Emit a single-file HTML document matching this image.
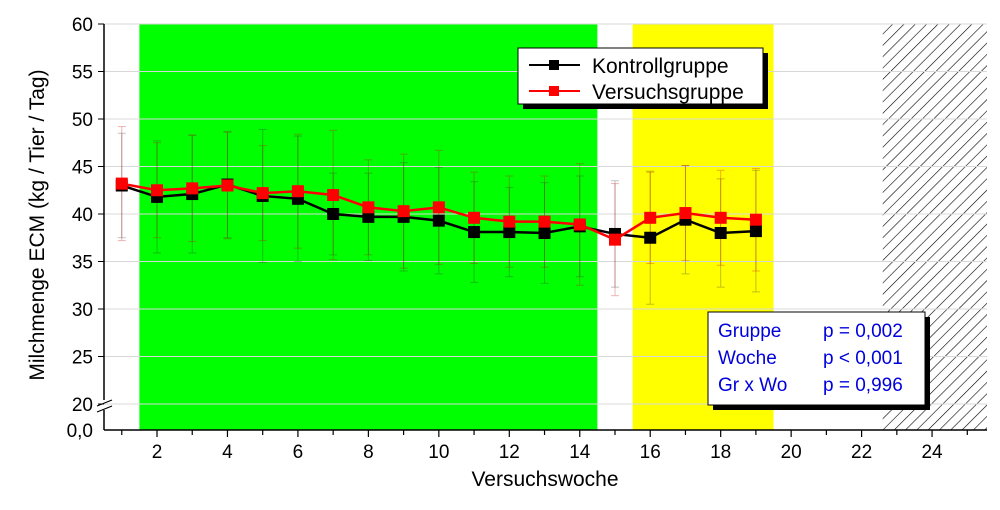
<!DOCTYPE html>
<html><head><meta charset="utf-8"><style>
body{margin:0;background:#fff;}
svg{display:block;font-family:"Liberation Sans",sans-serif;}
</style></head><body>
<svg id="chart" width="1000" height="510">
<defs><pattern id="hatch" width="8" height="8" patternUnits="userSpaceOnUse" patternTransform="rotate(45)"><line x1="0" y1="0" x2="0" y2="8" stroke="#000" stroke-width="1.2"/></pattern></defs>
<g id="bg"></g><g id="grid"></g><g id="err"></g><g id="lines"></g><g id="axes"></g>
<g>
<rect x="523" y="53" width="245" height="56" fill="#000"/>
<rect x="518" y="48" width="245" height="56" fill="#fff" stroke="#000"/>
<line x1="529" y1="65" x2="580" y2="65" stroke="#000" stroke-width="2"/><rect x="549" y="60" width="10" height="10" fill="#000"/>
<text x="592" y="73" font-size="21">Kontrollgruppe</text>
<line x1="529" y1="91" x2="580" y2="91" stroke="#f00" stroke-width="2"/><rect x="549" y="86" width="10" height="10" fill="#f00"/>
<text x="592" y="99" font-size="21">Versuchsgruppe</text>
</g>
<g>
<rect x="713" y="317" width="217" height="93" fill="#000"/>
<rect x="708" y="312" width="217" height="93" fill="#fff" stroke="#000"/>
<g fill="#0000dd" font-size="19">
<text x="718" y="337">Gruppe</text><text x="823" y="337">p = 0,002</text>
<text x="718" y="364">Woche</text><text x="823" y="364">p &lt; 0,001</text>
<text x="718" y="391">Gr x Wo</text><text x="823" y="391">p = 0,996</text>
</g></g>
<text x="545" y="486" font-size="21" text-anchor="middle">Versuchswoche</text>
<text transform="translate(44,225) rotate(-90)" font-size="21" text-anchor="middle">Milchmenge ECM (kg / Tier / Tag)</text>
</svg>
<script>
const weeks=[1,2,3,4,5,6,7,8,9,10,11,12,13,14,15,16,17,18,19];
const kontroll=[43.0,41.8,42.1,43.1,41.9,41.6,40.0,39.7,39.7,39.3,38.1,38.1,38.0,38.7,37.9,37.5,39.4,38.0,38.2];
const versuch=[43.2,42.5,42.7,43.0,42.2,42.4,42.0,40.7,40.3,40.7,39.6,39.2,39.2,38.9,37.3,39.6,40.1,39.6,39.4];
const kontrollErr=[5.5,5.9,6.2,5.6,7.0,6.6,4.3,4.6,5.7,5.6,5.3,4.7,5.3,5.3,5.6,7.0,5.7,5.7,6.4];
const versuchErr=[6.0,5.0,5.6,5.6,5.0,6.0,6.8,5.0,6.0,6.0,4.8,4.8,4.8,6.4,5.9,4.8,5.0,5.0,5.4];
const yTicks=[20,25,30,35,40,45,50,55,60];
const xTicks=[2,4,6,8,10,12,14,16,18,20,22,24];
const X=w=>157+(w-2)*35.23, Y=v=>404-(v-20)*9.5;
const NS="http://www.w3.org/2000/svg";
function mk(p,t,a){const e=document.createElementNS(NS,t);for(const k in a)e.setAttribute(k,a[k]);p.appendChild(e);return e;}
const bg=document.getElementById('bg'),grid=document.getElementById('grid'),err=document.getElementById('err'),lines=document.getElementById('lines'),axes=document.getElementById('axes');
let r=mk(bg,'rect',{x:X(1.5),y:24,width:X(14.5)-X(1.5),height:406,fill:'#00ff00'});


r=mk(bg,'rect',{x:X(15.5),y:24,width:X(19.5)-X(15.5),height:406,fill:'#ffff00'});


r=mk(bg,'rect',{x:X(22.6),y:24,width:987-X(22.6),height:406,fill:'url(#hatch)'});


yTicks.forEach(v=>{const l=mk(grid,'line',{x1:104,x2:987,y1:Y(v),y2:Y(v),stroke:'#d8d8d8','stroke-width':1});

});
function errs(vals,e,col){vals.forEach((v,i)=>{const x=X(weeks[i]);const g=mk(err,'g',{stroke:col,'stroke-width':1,opacity:0.3});


mk(g,'line',{x1:x,x2:x,y1:Y(v+e[i]),y2:Y(v-e[i])});mk(g,'line',{x1:x-4,x2:x+4,y1:Y(v+e[i]),y2:Y(v+e[i])});mk(g,'line',{x1:x-4,x2:x+4,y1:Y(v-e[i]),y2:Y(v-e[i])});});}
errs(kontroll,kontrollErr,'#333');errs(versuch,versuchErr,'#c00');
function series(vals,col,name){const p=mk(lines,'polyline',{points:vals.map((v,i)=>X(weeks[i])+','+Y(v)).join(' '),fill:'none',stroke:col,'stroke-width':2.5});


vals.forEach((v,i)=>{const m=mk(lines,'rect',{x:X(weeks[i])-6,y:Y(v)-6,width:12,height:12,fill:col});

});}
series(kontroll,'#000','kontroll');series(versuch,'#f00','versuch');
mk(axes,'line',{x1:104,x2:104,y1:24,y2:400,stroke:'#000','stroke-width':1.5});
mk(axes,'line',{x1:104,x2:104,y1:410,y2:430,stroke:'#000','stroke-width':1.5});
mk(axes,'line',{x1:97,x2:112,y1:406,y2:400,stroke:'#000','stroke-width':1.2});
mk(axes,'line',{x1:97,x2:112,y1:412,y2:406,stroke:'#000','stroke-width':1.2});
mk(axes,'line',{x1:104,x2:987,y1:430,y2:430,stroke:'#000','stroke-width':1.5});
yTicks.forEach(v=>{mk(axes,'line',{x1:98,x2:104,y1:Y(v),y2:Y(v),stroke:'#000'});const t=mk(axes,'text',{x:93,y:Y(v)+7,'font-size':19,'text-anchor':'end'});t.textContent=v;

});
const t0=mk(axes,'text',{x:93,y:437,'font-size':19,'text-anchor':'end'});t0.textContent='0,0';


for(let w=1;w<=25;w++){mk(axes,'line',{x1:X(w),x2:X(w),y1:430,y2:w%2?435:437,stroke:'#000','stroke-width':1.2});}
xTicks.forEach(w=>{const t=mk(axes,'text',{x:X(w),y:458,'font-size':19,'text-anchor':'middle'});t.textContent=w;

});
</script>
</body></html>
